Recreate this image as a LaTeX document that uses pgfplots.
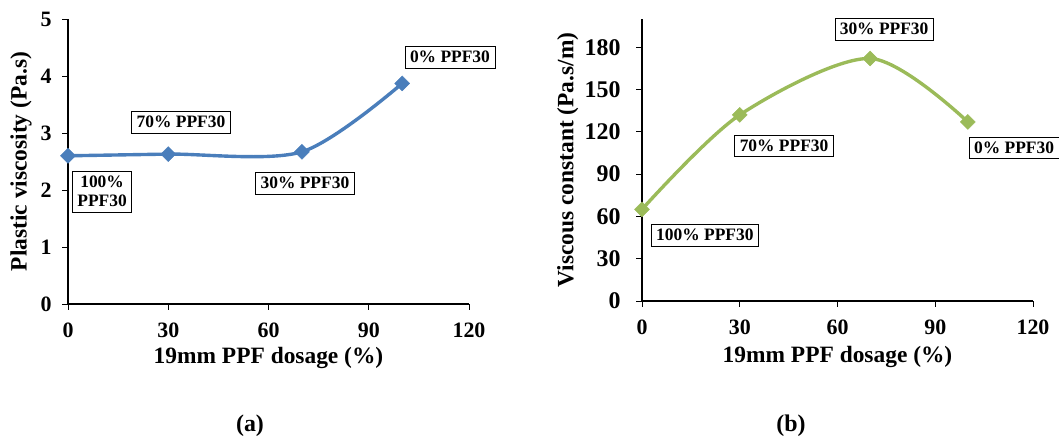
\documentclass[border=0pt]{standalone}
\usepackage{pgfplots}
\pgfplotsset{compat=1.18}
\usepackage{fontspec}
\setmainfont{Liberation Serif}

\definecolor{pvblue}{HTML}{4A7EBB}
\definecolor{vcgreen}{HTML}{9BBB59}

\tikzset{
  tag/.style={draw=black, line width=0.6pt, fill=white,
    inner xsep=5pt, inner ysep=5pt,
    font=\bfseries\fontsize{17.5}{19}\selectfont},
}

\pgfplotsset{
  panel/.style={
    scale only axis,
    axis lines*=left,
    axis line style={black, line width=1.3pt},
    clip=false,
    xmin=0, xmax=120,
    xtick={0,30,60,90,120},
    tick align=outside,
    major tick length=6pt,
    tick style={black, line width=1pt},
    ymin=0,
    /pgf/number format/assume math mode=true,
    ticklabel style={font=\bfseries\fontsize{22}{24}\selectfont},
    xticklabel style={yshift=-9pt},
    yticklabel style={xshift=-7pt},
    label style={font=\bfseries\fontsize{23.5}{25}\selectfont},
  },
}

\begin{document}
\begin{tikzpicture}
\path[use as bounding box] (0bp,0bp) rectangle (1059bp,441bp);

% (a) plastic viscosity
\begin{axis}[panel,
  at={(68bp,137bp)}, anchor=south west,
  width=401bp, height=285bp,
  ymax=5, ytick={0,1,2,3,4,5},
  xlabel={19mm PPF dosage (\%)},
  ylabel={Plastic viscosity (Pa.s)},
  x label style={at={(axis description cs:0.5,-0.19)}, anchor=center},
  y label style={at={(axis description cs:-0.117,0.5)}, anchor=center},
]
\addplot[pvblue, line width=3.4pt, smooth, mark=square*,
  mark size=5.3pt, mark options={rotate=45, line width=0.5pt, fill=pvblue}]
  coordinates {(0,2.60) (30,2.63) (70,2.67) (100,3.87)};
\node[tag, align=center] at (axis cs:10.2,1.97) {100\%\\PPF30};
\node[tag] at (axis cs:33.8,3.19) {70\% PPF30};
\node[tag] at (axis cs:70.9,2.12) {30\% PPF30};
\node[tag] at (axis cs:114.3,4.33) {0\% PPF30};
\end{axis}

% (b) viscous constant
\begin{axis}[panel,
  at={(642bp,140bp)}, anchor=south west,
  width=391bp, height=282bp,
  ymax=200, ytick={0,30,60,90,120,150,180},
  yticklabel style={font=\bfseries\fontsize{24}{26}\selectfont, xshift=-5pt},
  xlabel={19mm PPF dosage (\%)},
  ylabel={Viscous constant (Pa.s/m)},
  x label style={at={(axis description cs:0.5,-0.2)}, anchor=center},
  y label style={at={(axis description cs:-0.19,0.5)}, anchor=center},
]
\addplot[vcgreen, line width=3.4pt, smooth, mark=square*,
  mark size=5.3pt, mark options={rotate=45, line width=0.5pt, fill=vcgreen}]
  coordinates {(0,65) (30,132) (70,172) (100,127)};
\node[tag] at (axis cs:74.3,192.7) {30\% PPF30};
\node[tag] at (axis cs:43.6,110.1) {70\% PPF30};
\node[tag] at (axis cs:114.2,108.7) {0\% PPF30};
\node[tag] at (axis cs:19.3,46.6) {100\% PPF30};
\end{axis}

\node[font=\bfseries\fontsize{24}{26}\selectfont] at (250bp,15bp) {(a)};
\node[font=\bfseries\fontsize{24}{26}\selectfont] at (791bp,15bp) {(b)};
\end{tikzpicture}
\end{document}
